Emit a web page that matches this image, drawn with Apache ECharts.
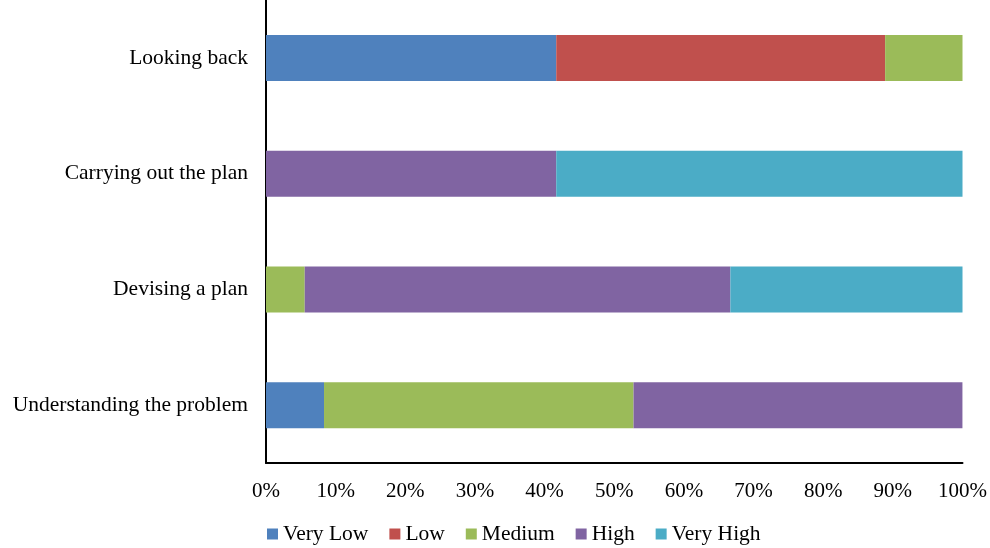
<!DOCTYPE html>
<html>
<head>
<meta charset="utf-8">
<script src="https://cdn.jsdelivr.net/npm/echarts@6/dist/echarts.min.js"></script>
<style>
  html, body { margin: 0; padding: 0; background: #fff; }
  #chart-container { width: 990px; height: 548px; }
</style>
</head>
<body>
<div id="chart-container"></div>
<script>
// percentages, bottom category first
var stages = ['Understanding the problem', 'Devising a plan', 'Carrying out the plan', 'Looking back'];
var levels = ['Very Low', 'Low', 'Medium', 'High', 'Very High'];
var veryLow  = [8.33, 0, 0, 41.67];
var low      = [0, 0, 0, 47.22];
var medium   = [44.44, 5.56, 0, 11.11];
var high     = [47.22, 61.11, 41.67, 0];
var veryHigh = [0, 33.33, 58.33, 0];
var colors = ['#4F81BD', '#C0504D', '#9BBB59', '#8064A2', '#4BACC6'];

var dom = document.getElementById('chart-container');
var myChart = echarts.init(dom, null, { renderer: 'canvas' });
var font = '"Liberation Serif", "Times New Roman", serif';

var values = [veryLow, low, medium, high, veryHigh];
var series = levels.map(function (name, i) {
    return {
        name: name,
        type: 'bar',
        stack: 'total',
        barWidth: 46,
        data: values[i].map(function (v) { return v === 0 ? '-' : v; }),
        itemStyle: { color: colors[i] }
    };
});

var option = {
    animation: false,
    color: colors,
    textStyle: { fontFamily: font },
    grid: { left: 266, right: 25, top: -1, bottom: 85, containLabel: false },
    legend: {
        top: 518,
        left: 262,
        itemWidth: 11,
        itemHeight: 11,
        itemGap: 21,
        icon: 'rect',
        textStyle: { fontFamily: font, fontSize: 21.5, color: '#000' },
        data: levels
    },
    xAxis: {
        type: 'value',
        min: 0,
        max: 100,
        interval: 10,
        axisLine: { show: true, lineStyle: { color: '#000', width: 2 } },
        axisTick: { show: false },
        splitLine: { show: false },
        axisLabel: { formatter: '{value}%', fontFamily: font, fontSize: 21, color: '#000', margin: 18 }
    },
    yAxis: {
        type: 'category',
        data: stages,
        axisLine: { show: true, lineStyle: { color: '#000', width: 2 } },
        axisTick: { show: false },
        axisLabel: { fontFamily: font, fontSize: 21.5, color: '#000', margin: 18 }
    },
    series: series
};

myChart.setOption(option);
window.addEventListener('resize', myChart.resize);
</script>
</body>
</html>
